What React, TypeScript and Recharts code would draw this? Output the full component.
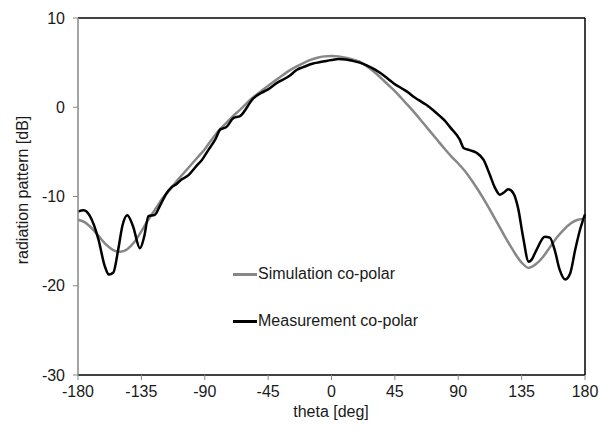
import { Label, Line, LineChart, ReferenceLine, XAxis, YAxis } from "recharts";

// theta [deg] / level [dB]
const simTheta = [
  -180, -175, -170, -165, -160, -155, -150, -145, -140, -135, -130, -125, -120, -115, -110, -105, -100, -95, -90,
  -85, -80, -75, -70, -65, -60, -55, -50, -45, -40, -35, -30, -25, -20, -15, -10, -5, 0, 5, 10, 15, 20, 25, 30, 35,
  40, 45, 50, 55, 60, 65, 70, 75, 80, 85, 90, 95, 100, 105, 110, 115, 120, 125, 130, 135, 140, 145, 150, 155, 160,
  165, 170, 175, 180,
];
const simDb = [
  -12.6, -12.9, -13.6, -14.5, -15.4, -16.0, -16.2, -15.9, -15.1, -13.9, -12.6, -11.4, -10.2, -9.3, -8.3, -7.4, -6.5,
  -5.6, -4.7, -3.6, -2.6, -1.8, -1.0, -0.3, 0.5, 1.2, 1.8, 2.4, 3.0, 3.55, 4.1, 4.55, 4.95, 5.3, 5.55, 5.7, 5.75,
  5.7, 5.55, 5.35, 5.1, 4.6, 4.0, 3.3, 2.55, 1.8, 0.95, 0.1, -0.8, -1.75, -2.7, -3.65, -4.6, -5.5, -6.3, -7.2, -8.3,
  -9.5, -10.8, -12.2, -13.6, -15.0, -16.3, -17.4, -18.0, -17.6, -16.8, -15.7, -14.6, -13.7, -13.0, -12.6, -12.5,
];

const measTheta = [
  -180, -176, -171.5, -165.5, -161, -158, -155, -151.5, -148.5, -145, -141, -136, -133, -130, -125.5, -122, -117,
  -113.5, -110, -106.5, -101.5, -96, -92, -87.5, -82.5, -79, -74.5, -69.5, -65, -55.5, -50, -45, -39, -30, -24.5,
  -20, -13, -10, 0, 5, 10, 15, 20, 25, 30, 35, 40, 44, 50, 55, 58, 62, 67, 72, 77, 81, 84, 91, 94, 98, 103, 108,
  112.5, 116, 119.5, 122, 125.5, 129, 132.5, 136, 140, 142, 145.5, 151.5, 155, 158.5, 162, 166, 169.5, 173, 176.5,
  180,
];
const measDb = [
  -11.7, -11.55, -12.2, -14.8, -17.8, -18.75, -18.55, -16.0, -13.3, -12.1, -13.3, -15.8, -14.5, -12.2, -12.05,
  -11.1, -9.6, -8.95, -8.6, -8.1, -7.6, -6.6, -5.9, -4.8, -3.6, -2.5, -2.2, -1.2, -1.0, 1.0, 1.6, 2.0, 2.7, 3.5,
  4.2, 4.5, 4.9, 5.0, 5.3, 5.4, 5.35, 5.2, 5.0, 4.7, 4.3, 3.8, 3.2, 2.7, 2.1, 1.6, 1.2, 0.8, 0.3, -0.3, -1.0, -1.6,
  -2.2, -3.6, -4.6, -4.8, -5.1, -5.9, -7.6, -9.0, -9.8, -9.6, -9.2, -9.6, -11.3, -14.5, -17.3, -17.1, -16.0, -14.5,
  -14.6, -16.0, -18.2, -19.3, -18.6, -16.0, -13.7, -12.0,
];

const xTicks = [-180, -135, -90, -45, 0, 45, 90, 135, 180];
const yTicks = [-30, -20, -10, 0, 10];
const seriesNames = ["Simulation co-polar", "Measurement co-polar"];

const simData = simTheta.map((t, i) => ({ theta: t, db: simDb[i] }));
const measData = measTheta.map((t, i) => ({ theta: t, db: measDb[i] }));

const GRAY = "#878787";
const FONT = "'Liberation Sans', Arial, sans-serif";
const tickStyle = { fontSize: 16, fill: "#1a1a1a", fontFamily: FONT };

// legend sits inside the plot, drawn over the chart so it takes no layout space
function LegendBox() {
  const colors = [GRAY, "#000"];
  return (
    <div style={{ position: "absolute", left: 233, top: 262, fontFamily: FONT, fontSize: 16, color: "#1a1a1a" }}>
      {seriesNames.map((n, i) => (
        <div key={n} style={{ height: 23, lineHeight: "23px", marginBottom: 24, whiteSpace: "nowrap" }}>
          <span
            style={{
              display: "inline-block",
              width: 24,
              height: 3,
              background: colors[i],
              verticalAlign: "middle",
              marginRight: 1,
            }}
          />
          {n}
        </div>
      ))}
    </div>
  );
}

export default function App() {
  return (
    <div style={{ position: "relative", width: 601, height: 430 }}>
      <style>{"body{margin:0}"}</style>
      <LineChart width={601} height={430} margin={{ top: 18, right: 16, bottom: 0, left: 0 }}>
        <XAxis
          type="number"
          dataKey="theta"
          domain={[-180, 180]}
          ticks={xTicks}
          height={55}
          axisLine={{ stroke: "#000", strokeWidth: 1.5 }}
          tickLine={{ stroke: GRAY }}
          tickSize={5}
          tickMargin={6}
          tick={tickStyle}
        >
          <Label
            content={() => (
              <text x={331} y={417} textAnchor="middle" fontSize={16} fill="#1a1a1a" fontFamily={FONT}>
                theta [deg]
              </text>
            )}
          />
        </XAxis>
        <YAxis
          type="number"
          domain={[-30, 10]}
          ticks={yTicks}
          width={78}
          axisLine={{ stroke: GRAY, strokeWidth: 1.5 }}
          tickLine={{ stroke: GRAY }}
          tickSize={5}
          tickMargin={8}
          tick={tickStyle}
        >
          <Label
            content={() => (
              <text
                x={28}
                y={190}
                transform="rotate(-90 28 190)"
                textAnchor="middle"
                fontSize={16}
                fill="#1a1a1a"
                fontFamily={FONT}
              >
                radiation pattern [dB]
              </text>
            )}
          />
        </YAxis>
        <ReferenceLine y={10} stroke="#000" strokeWidth={1.5} />
        <ReferenceLine x={180} stroke="#000" strokeWidth={1.5} />
        <Line
          data={simData}
          dataKey="db"
          name={seriesNames[0]}
          type="monotone"
          stroke={GRAY}
          strokeWidth={2.5}
          dot={false}
          isAnimationActive={false}
        />
        <Line
          data={measData}
          dataKey="db"
          name={seriesNames[1]}
          type="monotone"
          stroke="#000"
          strokeWidth={2.5}
          dot={false}
          isAnimationActive={false}
        />
      </LineChart>
      <LegendBox />
    </div>
  );
}
